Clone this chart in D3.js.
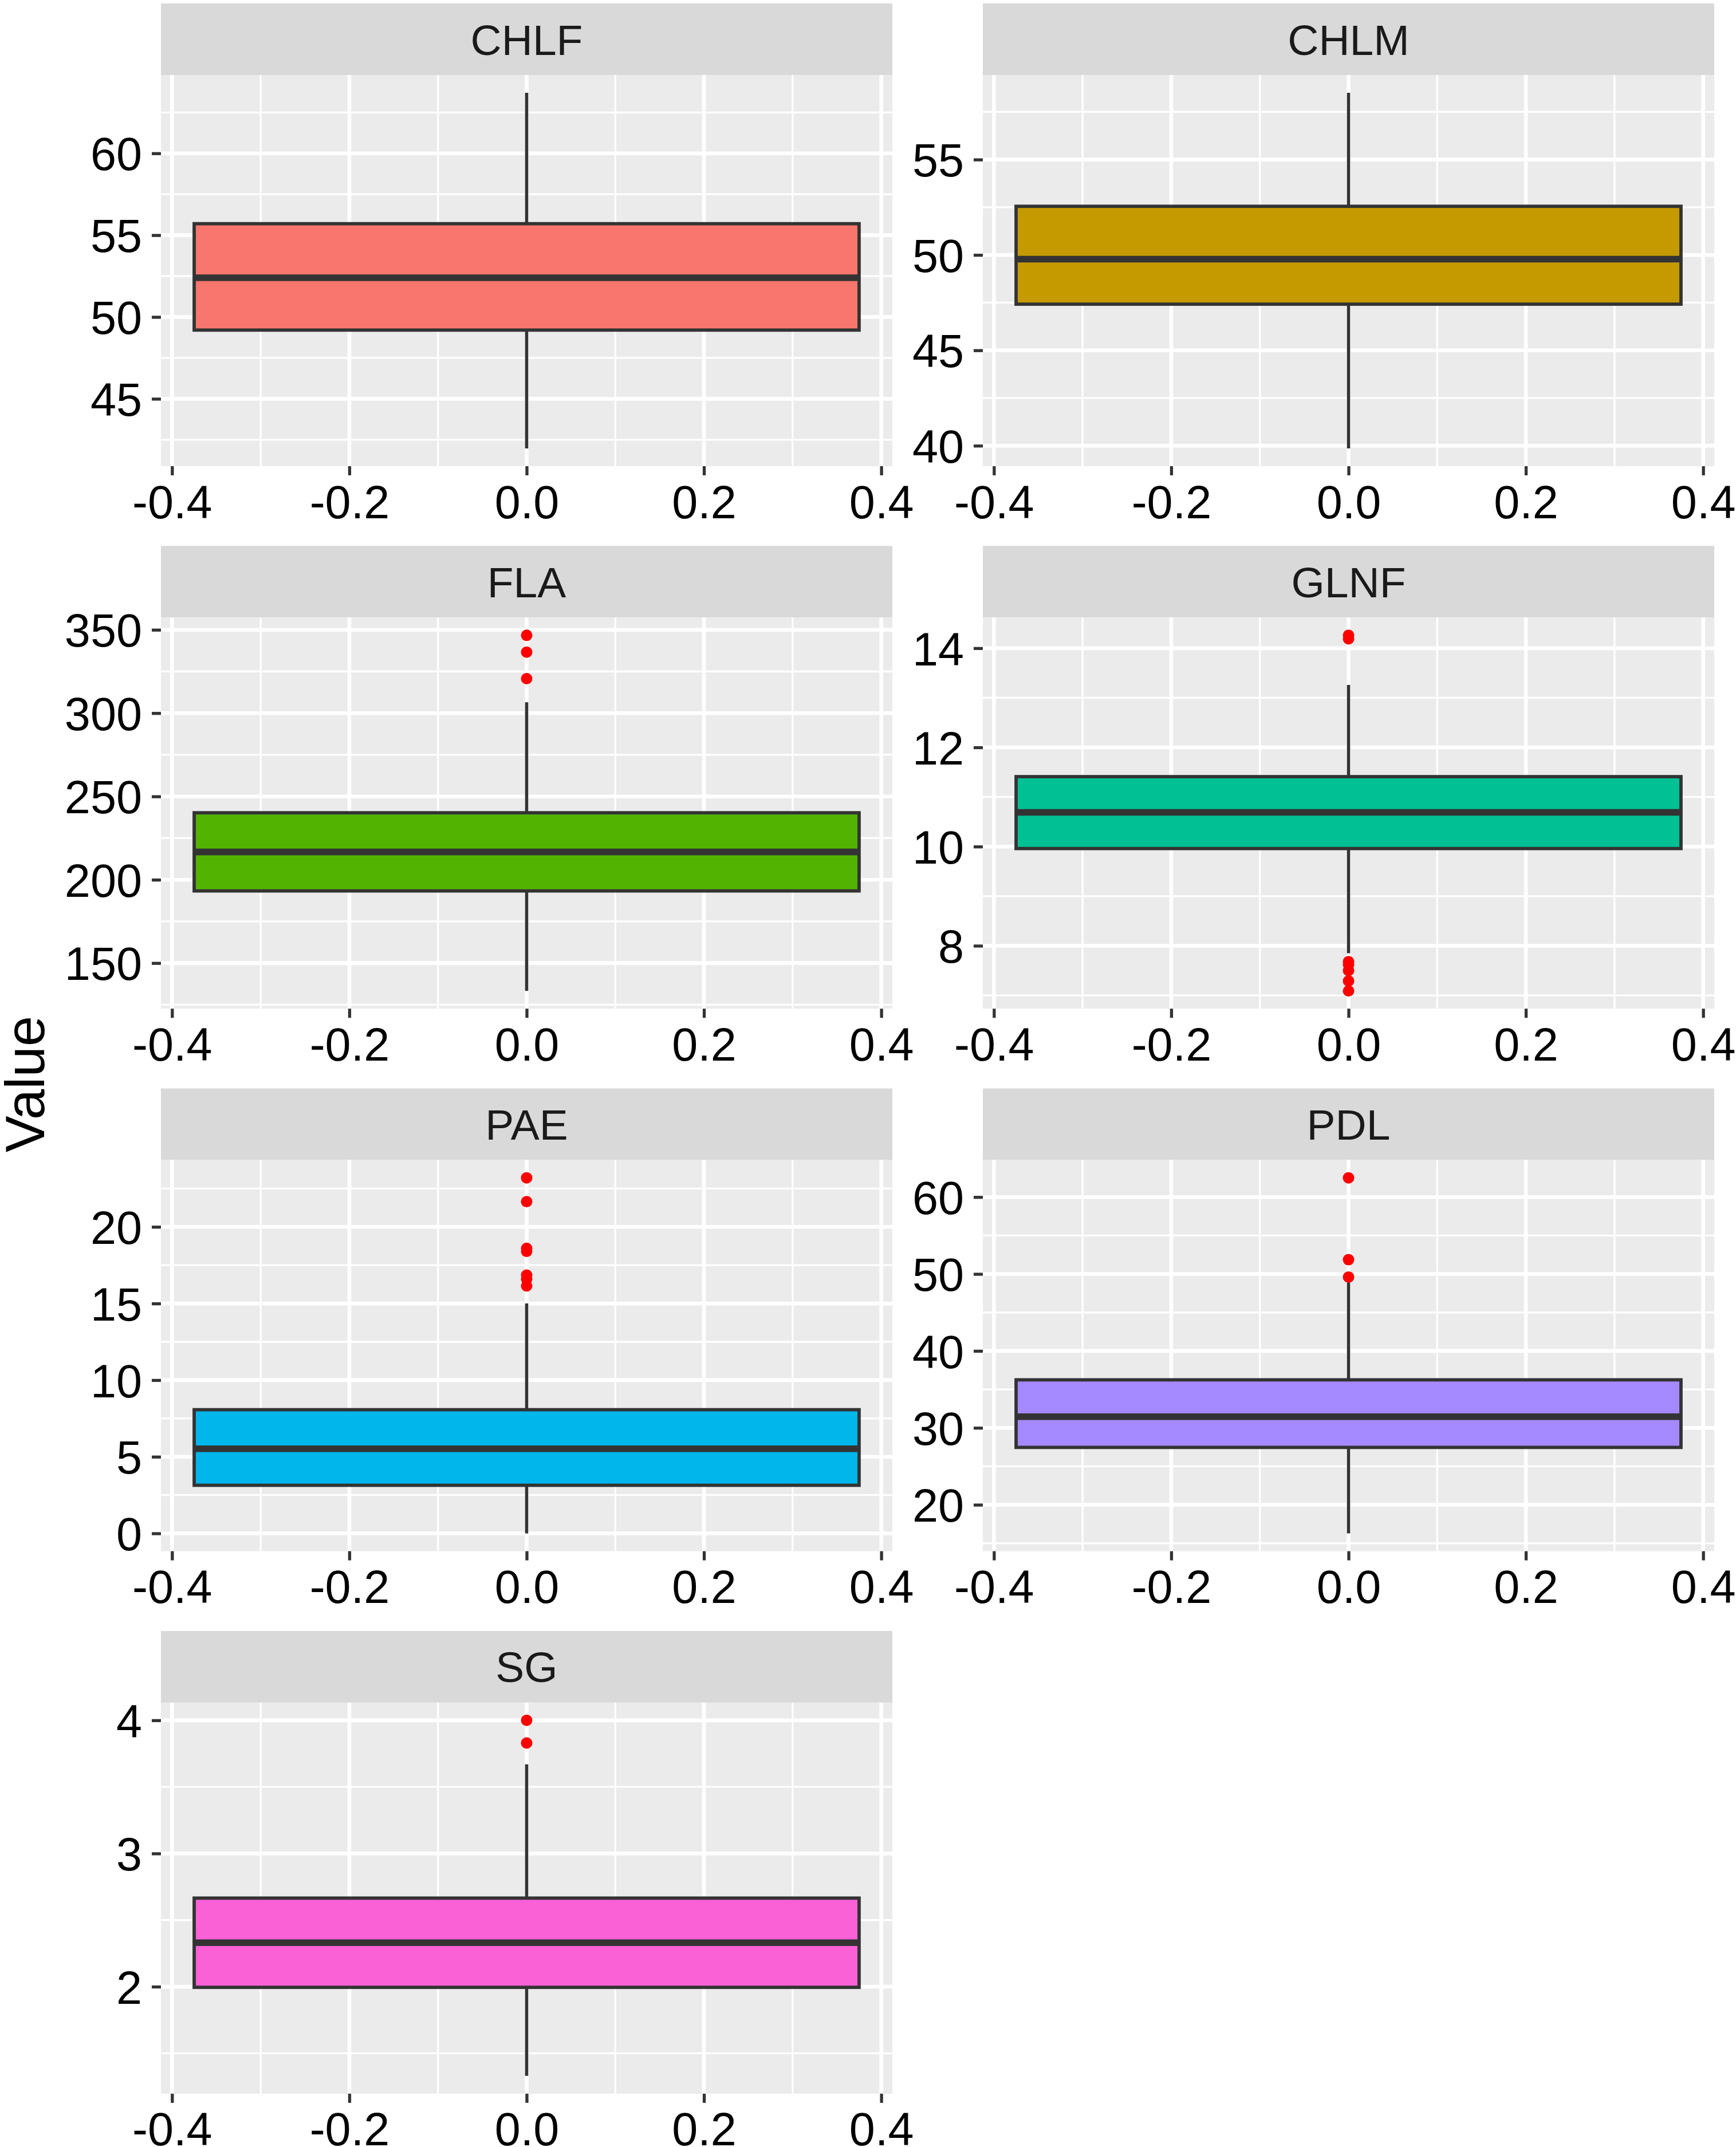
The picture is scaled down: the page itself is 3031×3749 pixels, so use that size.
<!DOCTYPE html>
<html>
<head>
<meta charset="utf-8">
<script src="https://cdn.jsdelivr.net/npm/d3@7"></script>
<style>
  body { margin: 0; background: #fff; }
  text { font-family: "Liberation Sans", Arial, sans-serif; }
</style>
</head>
<body>
<svg id="chart" width="3031" height="3749"></svg>
<script>
// panel names, in facet order
var variables = ["CHLF", "CHLM", "FLA", "GLNF", "PAE", "PDL", "SG"];
var fills = ["#F8766D", "#C49A00", "#53B400", "#00C094", "#00B6EB", "#A58AFF", "#FB61D7"];

// box statistics
var whiskerLow  = [41.97, 39.86, 133.3, 7.85, 0.0, 16.28, 1.33];
var lowerQ      = [49.2, 47.42, 193.3, 9.96, 3.14, 27.46, 1.995];
var medians     = [52.4, 49.78, 216.7, 10.69, 5.52, 31.45, 2.33];
var upperQ      = [55.7, 52.55, 240.2, 11.41, 8.07, 36.24, 2.665];
var whiskerHigh = [63.7, 58.5, 306.5, 13.26, 15.0, 48.9, 3.67];
var outliers = [
  [],
  [],
  [320.7, 336.6, 346.7],
  [14.19, 14.26, 7.68, 7.62, 7.5, 7.29, 7.09],
  [16.15, 16.6, 16.85, 18.4, 18.6, 21.65, 23.2],
  [49.6, 51.86, 62.5],
  [3.83, 4.0]
];

// tick labels
var yTicks = [
  [45, 50, 55, 60],
  [40, 45, 50, 55],
  [150, 200, 250, 300, 350],
  [8, 10, 12, 14],
  [0, 5, 10, 15, 20],
  [20, 30, 40, 50, 60],
  [2, 3, 4]
];
var xTicks = [-0.4, -0.2, 0.0, 0.2, 0.4];
var xMinor = [-0.3, -0.1, 0.1, 0.3];

var svg = d3.select("#chart");

var colX = [281, 1716],
    panelW = 1277,
    rowTop = 6,
    rowStep = 947.3,
    stripH = 125,
    panelH = 683;

var x = d3.scaleLinear()
    .domain([-0.375 - 0.0375, 0.375 + 0.0375])
    .range([0, panelW]);

variables.forEach(function(name, i) {
  var col = i % 2, row = Math.floor(i / 2);
  var left = colX[col], top = rowTop + row * rowStep;

  // y domain from the data, ggplot-style 5% expansion
  var all = [whiskerLow[i], whiskerHigh[i]].concat(outliers[i]);
  var lo = d3.min(all), hi = d3.max(all), pad = (hi - lo) * 0.05;
  var y = d3.scaleLinear().domain([lo - pad, hi + pad]).range([panelH, 0]);

  var g = svg.append("g").attr("transform", "translate(" + left + "," + top + ")");

  // strip
  g.append("rect").attr("width", panelW).attr("height", stripH).attr("fill", "#D9D9D9");
  g.append("text")
    .attr("x", panelW / 2).attr("y", stripH / 2).attr("dy", "0.36em")
    .attr("text-anchor", "middle")
    .attr("font-size", 75).attr("fill", "#1A1A1A")
    .text(name);

  var p = g.append("g").attr("transform", "translate(0," + stripH + ")");
  p.append("rect").attr("width", panelW).attr("height", panelH).attr("fill", "#EBEBEB");

  // minor grid
  var ticks = yTicks[i], step = ticks[1] - ticks[0];
  var yMinor = [ticks[0] - step / 2].concat(ticks.map(function(t){ return t + step / 2; }))
    .filter(function(v){ return v > y.domain()[0] && v < y.domain()[1]; });
  p.selectAll(".ymin").data(yMinor).enter().append("line")
    .attr("x1", 0).attr("x2", panelW)
    .attr("y1", function(d){ return y(d); }).attr("y2", function(d){ return y(d); })
    .attr("stroke", "#fff").attr("stroke-width", 3.3);
  p.selectAll(".xmin").data(xMinor).enter().append("line")
    .attr("y1", 0).attr("y2", panelH)
    .attr("x1", function(d){ return x(d); }).attr("x2", function(d){ return x(d); })
    .attr("stroke", "#fff").attr("stroke-width", 3.3);

  // major grid
  p.selectAll(".ymaj").data(ticks).enter().append("line")
    .attr("x1", 0).attr("x2", panelW)
    .attr("y1", function(d){ return y(d); }).attr("y2", function(d){ return y(d); })
    .attr("stroke", "#fff").attr("stroke-width", 6.6);
  p.selectAll(".xmaj").data(xTicks).enter().append("line")
    .attr("y1", 0).attr("y2", panelH)
    .attr("x1", function(d){ return x(d); }).attr("x2", function(d){ return x(d); })
    .attr("stroke", "#fff").attr("stroke-width", 6.6);

  // whiskers
  p.append("line")
    .attr("x1", x(0)).attr("x2", x(0))
    .attr("y1", y(whiskerHigh[i])).attr("y2", y(upperQ[i]))
    .attr("stroke", "#333333").attr("stroke-width", 5.5);
  p.append("line")
    .attr("x1", x(0)).attr("x2", x(0))
    .attr("y1", y(lowerQ[i])).attr("y2", y(whiskerLow[i]))
    .attr("stroke", "#333333").attr("stroke-width", 5.5);

  // box
  p.append("rect")
    .attr("x", x(-0.375)).attr("width", x(0.375) - x(-0.375))
    .attr("y", y(upperQ[i])).attr("height", y(lowerQ[i]) - y(upperQ[i]))
    .attr("fill", fills[i]).attr("stroke", "#333333").attr("stroke-width", 5.8);
  p.append("line")
    .attr("x1", x(-0.375)).attr("x2", x(0.375))
    .attr("y1", y(medians[i])).attr("y2", y(medians[i]))
    .attr("stroke", "#333333").attr("stroke-width", 11.6);

  // outliers
  p.selectAll(".out").data(outliers[i]).enter().append("circle")
    .attr("cx", x(0)).attr("cy", function(d){ return y(d); })
    .attr("r", 10).attr("fill", "#FF0000");

  // axes
  var ya = p.append("g").call(d3.axisLeft(y).tickValues(ticks).tickSize(16).tickPadding(17)
      .tickFormat(function(d){ return String(d); }));
  var xa = p.append("g").attr("transform", "translate(0," + panelH + ")")
      .call(d3.axisBottom(x).tickValues(xTicks).tickSize(16).tickPadding(17)
      .tickFormat(function(d){ return d.toFixed(1); }));
  [ya, xa].forEach(function(a) {
    a.select(".domain").remove();
    a.selectAll(".tick line").attr("stroke", "#333333").attr("stroke-width", 5.3);
    a.selectAll(".tick text").attr("font-size", 81).attr("fill", "#000")
      .style("font-family", "'Liberation Sans', Arial, sans-serif");
  });
  ya.selectAll(".tick text").attr("dy", "0.36em");
  xa.selectAll(".tick text").attr("dy", "0.71em");
});

// y axis title
svg.append("text")
  .attr("transform", "translate(77,1893) rotate(-90)")
  .attr("text-anchor", "middle")
  .attr("font-size", 96).attr("fill", "#000")
  .text("Value");
</script>
</body>
</html>
